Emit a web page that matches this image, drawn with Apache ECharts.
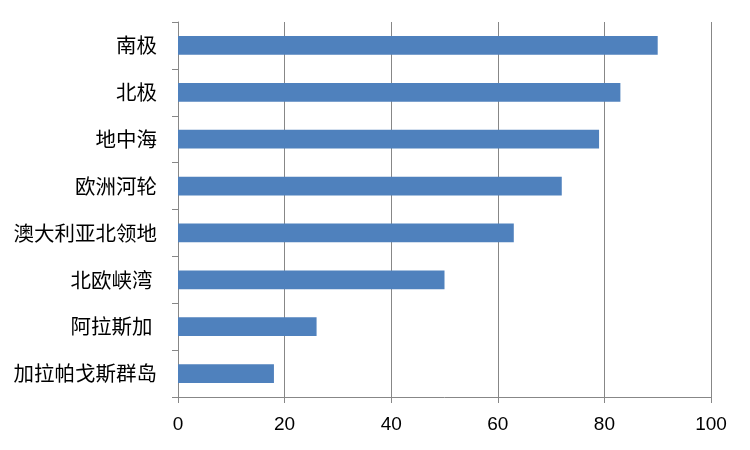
<!DOCTYPE html>
<html>
<head>
<meta charset="utf-8">
<script src="https://cdn.jsdelivr.net/npm/echarts@6/dist/echarts.min.js"></script>
<style>html,body{margin:0;padding:0;background:#fff}#c{width:750px;height:450px}</style>
</head>
<body>
<div id="c"></div>
<script>
var categories = ['南极', '北极', '地中海', '欧洲河轮', '澳大利亚北领地', '北欧峡湾 ', '阿拉斯加 ', '加拉帕戈斯群岛'];
var values = [90, 83, 79, 72, 63, 50, 26, 18];
var xTicks = [0, 20, 40, 60, 80, 100];

var chart = echarts.init(document.getElementById('c'), null, {renderer: 'canvas'});
var lineColor = '#878787';
chart.setOption({
  animation: false,
  grid: {left: 178, right: 39, top: 22, bottom: 53, containLabel: false},
  xAxis: {
    type: 'value', min: xTicks[0], max: xTicks[xTicks.length - 1], interval: 20,
    axisLine: {show: true, lineStyle: {color: lineColor, width: 1}},
    axisTick: {show: true, length: 6, lineStyle: {color: lineColor}},
    splitLine: {show: true, lineStyle: {color: lineColor, width: 1}},
    axisLabel: {color: '#000', fontSize: 19, margin: 18, fontFamily: 'Liberation Sans, Arial, sans-serif'}
  },
  yAxis: {
    type: 'category', data: categories, inverse: true,
    axisLine: {show: true, lineStyle: {color: lineColor, width: 1}},
    axisTick: {show: true, length: 6, lineStyle: {color: lineColor}},
    axisLabel: {color: '#000', fontSize: 20.5, margin: 21, fontFamily: 'Noto Sans CJK SC, sans-serif'}
  },
  series: [{
    type: 'bar', data: values, barWidth: '40%',
    itemStyle: {color: '#4F81BD'}
  }]
});
</script>
</body>
</html>
